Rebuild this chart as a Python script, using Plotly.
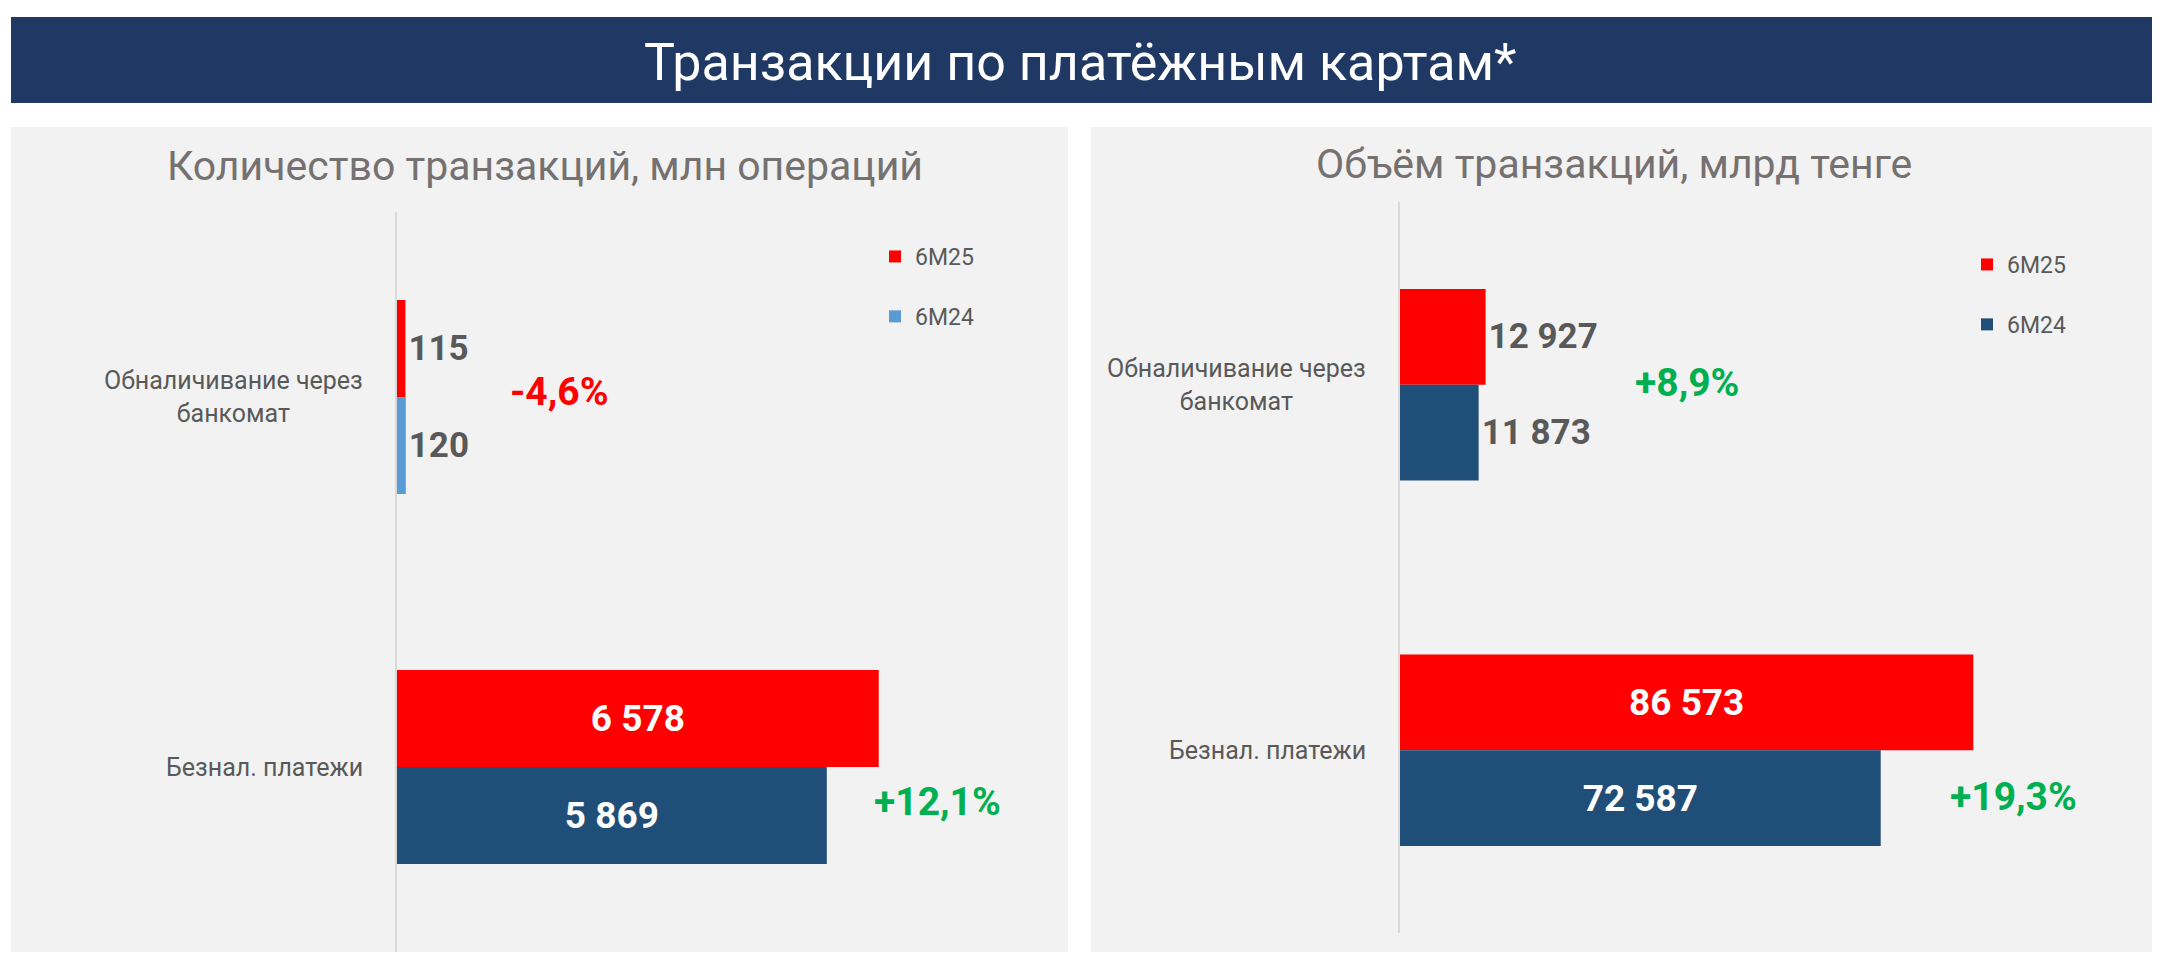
import plotly.graph_objects as go

# target page size in px; the browser adds an 8px body margin, so the figure
# is drawn 8px smaller and every page position is shifted back by that amount
W, H = 2160, 959
PAD = 8
FW, FH = W - PAD, H - PAD

# --- data ---
categories = ["Обналичивание через<br>банкомат", "Безнал. платежи"]
series = ["6M25", "6M24"]
count_6m25 = [115, 6578]
count_6m24 = [120, 5869]
volume_6m25 = [12927, 86573]
volume_6m24 = [11873, 72587]
count_change = ["-4,6%", "+12,1%"]
volume_change = ["+8,9%", "+19,3%"]

main_title = "Транзакции по платёжным картам*"
panel_titles = ["Количество транзакций, млн операций", "Объём транзакций, млрд тенге"]

# --- styles ---
FONT = "Roboto, Liberation Sans, sans-serif"
RED = "#FF0000"
NAVY = "#1F4E79"
LIGHT_BLUE = "#5B9BD5"
GREEN = "#00B050"
DARK_GREY = "#595959"
TITLE_GREY = "#767171"
BAR_BG = "#203864"
PANEL_BG = "#F2F2F2"


def px_x(p):
    return (p - PAD) / FW


def px_y(p):
    return 1 - (p - PAD) / FH


def fmt(v):
    return f"{v:,}".replace(",", " ")


fig = go.Figure()

panels = [
    # 6M25 values, 6M24 values, 6M24 colours, axis suffix, legend id
    (count_6m25, count_6m24, [LIGHT_BLUE, NAVY], "", "legend"),
    (volume_6m25, volume_6m24, [NAVY, NAVY], "2", "legend2"),
]

# ATM bar labels sit outside the bar, card payments labels inside
text_pos = ["outside", "inside"]
text_col = [DARK_GREY, "white"]

for vals25, vals24, colors24, sfx, leg in panels:
    for name, vals, col in [(series[0], vals25, RED), (series[1], vals24, colors24)]:
        fig.add_trace(go.Bar(
            y=categories,
            x=vals,
            name=name,
            orientation="h",
            marker=dict(color=col, line=dict(width=0)),
            text=[fmt(v) for v in vals],
            textposition=text_pos,
            insidetextanchor="middle",
            textfont=dict(family=FONT, size=[35, 37], color=text_col, weight="bold"),
            constraintext="none",
            cliponaxis=False,
            legendgroup=name + sfx,
            legend=leg,
            xaxis="x" + sfx,
            yaxis="y" + sfx,
            hoverinfo="skip",
        ))

axis_common = dict(showgrid=False, zeroline=False, showticklabels=False, ticks="")
yaxis_common = dict(
    type="category",
    categoryorder="array",
    categoryarray=categories,
    autorange="reversed",
    showline=True,
    linecolor="#D9D9D9",
    linewidth=2,
    showgrid=False,
    zeroline=False,
    showticklabels=False,
    ticks="",
)
legend_common = dict(
    xanchor="left", yanchor="top", bgcolor="rgba(0,0,0,0)",
    traceorder="grouped", tracegroupgap=27,
    font=dict(family=FONT, size=23, color=DARK_GREY),
)

fig.update_layout(
    width=FW,
    height=FH,
    margin=dict(l=0, r=0, t=0, b=0),
    paper_bgcolor="white",
    plot_bgcolor="rgba(0,0,0,0)",
    template="none",
    barmode="group",
    bargap=0.476,
    bargroupgap=0,
    font=dict(family=FONT, color=DARK_GREY),
    xaxis=dict(domain=[px_x(397), px_x(1040)], range=[0, 8780], **axis_common),
    yaxis=dict(domain=[px_y(952), px_y(212)], **yaxis_common),
    xaxis2=dict(domain=[px_x(1400), px_x(2120)], range=[0, 108720], anchor="y2", **axis_common),
    yaxis2=dict(domain=[px_y(933), px_y(202)], anchor="x2", **yaxis_common),
    legend=dict(x=px_x(875), y=px_y(235), **legend_common),
    legend2=dict(x=px_x(1967), y=px_y(243), **legend_common),
)

# background blocks: title bar and two grey panels
fig.add_shape(type="rect", xref="paper", yref="paper", layer="below",
              x0=px_x(11), x1=px_x(2152), y0=px_y(103), y1=px_y(17),
              fillcolor=BAR_BG, line=dict(width=0))
for x0, x1 in [(11, 1068), (1091, 2152)]:
    fig.add_shape(type="rect", xref="paper", yref="paper", layer="below",
                  x0=px_x(x0), x1=px_x(x1), y0=px_y(952), y1=px_y(127),
                  fillcolor=PANEL_BG, line=dict(width=0))

# titles
fig.add_annotation(text=main_title, xref="paper", yref="paper", x=px_x(1080), y=px_y(63),
                   xanchor="center", yanchor="middle", showarrow=False,
                   font=dict(family=FONT, size=52, color="white"))
for t, cx, cy in zip(panel_titles, [545, 1614], [166, 164]):
    fig.add_annotation(text=t, xref="paper", yref="paper", x=px_x(cx), y=px_y(cy),
                       xanchor="center", yanchor="middle", showarrow=False,
                       font=dict(family=FONT, size=41, color=TITLE_GREY))

# category labels (centered, two-line)
for sfx in ["", "2"]:
    for i, cat in enumerate(categories):
        fig.add_annotation(text=cat, xref=f"x{sfx} domain", yref=f"y{sfx}", x=0, y=i,
                           xanchor="right", yanchor="middle", xshift=-32, align="center",
                           showarrow=False, font=dict(family=FONT, size=25, color=DARK_GREY))

# change labels
change_pos = [
    (count_change, [(559, 392), (937, 802)]),
    (volume_change, [(1687, 383), (2013, 797)]),
]
for labels, spots in change_pos:
    for lab, (cx, cy) in zip(labels, spots):
        fig.add_annotation(text=lab, xref="paper", yref="paper", x=px_x(cx), y=px_y(cy),
                           xanchor="center", yanchor="middle", showarrow=False,
                           font=dict(family=FONT, size=39, weight="bold",
                                     color=RED if lab.startswith("-") else GREEN))

fig.write_html("out.html")
